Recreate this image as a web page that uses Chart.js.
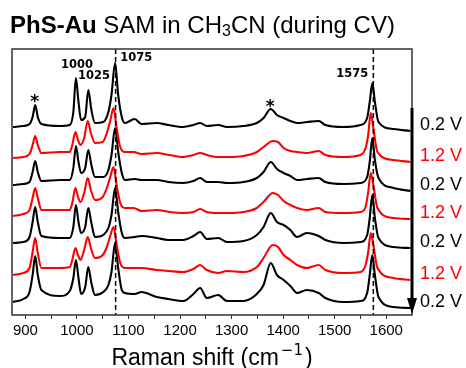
<!DOCTYPE html>
<html>
<head>
<meta charset="utf-8">
<script src="https://cdn.jsdelivr.net/npm/chart.js@4.4.1/dist/chart.umd.min.js"></script>
<style>
  html, body { margin: 0; padding: 0; background: #fff; }
  #wrap { width: 466px; height: 368px; position: relative; }
</style>
</head>
<body>
<div id="wrap"><canvas id="c" width="466" height="368"></canvas></div>
<script>
// ---- Data (Raman shift in cm^-1, intensities in arbitrary stacked units) ----
const shiftBlack = [876, 896, 908, 914, 919, 924, 931, 967, 986, 993, 998, 1003, 1008, 1016, 1022, 1028, 1035, 1051, 1061, 1067, 1074, 1080, 1087, 1093, 1112, 1125, 1155, 1177, 1206, 1226, 1239, 1252, 1274, 1291, 1323, 1349, 1362, 1376, 1388, 1401, 1414, 1427, 1446, 1469, 1482, 1517, 1550, 1563, 1568, 1573, 1578, 1585, 1614, 1647];
const shiftRed   = [876, 896, 908, 914, 919, 924, 931, 967, 986, 991, 997, 1002, 1007, 1014, 1021, 1027, 1035, 1050, 1058, 1064, 1071, 1077, 1084, 1093, 1110, 1125, 1155, 1179, 1206, 1226, 1239, 1252, 1274, 1291, 1323, 1349, 1362, 1380, 1390, 1401, 1414, 1427, 1446, 1469, 1482, 1517, 1550, 1560, 1565, 1570, 1575, 1583, 1614, 1647];

const scan1_02V = [188, 189, 191, 198, 210, 198, 191, 189, 190, 203, 237, 213, 195, 198, 225, 205, 192, 193, 203, 220, 252, 220, 198, 192, 196, 191, 192, 190, 188, 190, 192, 189, 190, 188, 189, 192, 197, 206, 200, 197, 194, 192, 193, 194, 190, 188, 190, 197, 213, 232, 213, 193, 186, 184];
const scan2_12V = [157, 158, 161, 170, 179, 170, 162, 163, 163, 170, 183, 175, 170, 177, 194, 182, 172, 173, 182, 193, 207, 187, 168, 163, 163, 161, 162, 160, 158, 160, 162, 160, 158, 158, 159, 163, 168, 174, 173, 167, 164, 163, 162, 164, 160, 158, 160, 167, 180, 202, 187, 163, 155, 153];
const scan3_02V = [130, 131, 133, 143, 154, 143, 134, 135, 135, 147, 169, 153, 142, 147, 165, 150, 138, 138, 145, 160, 187, 163, 142, 135, 136, 135, 135, 133, 132, 134, 137, 133, 133, 132, 133, 137, 143, 153, 146, 142, 139, 135, 136, 137, 133, 131, 132, 138, 153, 177, 155, 137, 127, 124];
const scan4_12V = [99, 101, 105, 117, 127, 117, 105, 105, 105, 112, 127, 118, 113, 122, 137, 125, 115, 118, 127, 137, 148, 130, 112, 107, 107, 104, 105, 103, 102, 103, 106, 103, 102, 102, 103, 107, 113, 122, 120, 114, 110, 107, 105, 107, 103, 102, 103, 108, 123, 142, 130, 107, 97, 96];
const scan5_02V = [72, 73, 78, 93, 108, 93, 79, 77, 77, 88, 110, 93, 82, 88, 107, 92, 78, 80, 87, 100, 127, 103, 82, 77, 78, 79, 77, 75, 75, 79, 83, 76, 77, 73, 74, 80, 88, 102, 93, 90, 85, 78, 82, 79, 75, 72, 73, 80, 97, 120, 97, 77, 68, 67];
const scan6_12V = [40, 42, 47, 63, 77, 62, 47, 47, 48, 55, 67, 60, 55, 65, 78, 67, 57, 60, 68, 78, 88, 70, 52, 47, 47, 47, 45, 44, 43, 46, 50, 45, 42, 44, 43, 48, 57, 70, 68, 60, 55, 50, 47, 50, 45, 42, 43, 50, 63, 82, 70, 47, 37, 35];
const scan7_02V = [13, 16, 23, 40, 59, 40, 25, 19, 24, 37, 55, 37, 21, 28, 48, 32, 20, 23, 30, 43, 72, 47, 25, 22, 21, 23, 18, 16, 14, 21, 27, 17, 20, 14, 14, 21, 30, 52, 40, 35, 29, 22, 25, 22, 17, 13, 14, 22, 40, 60, 40, 18, 8, 7];

const potentialLabels = ['0.2 V', '1.2 V', '0.2 V', '1.2 V', '0.2 V', '1.2 V', '0.2 V'];
const xTickValues = [900, 950, 1000, 1050, 1100, 1150, 1200, 1250, 1300, 1350, 1400, 1450, 1500, 1550, 1600];
const markedBands = [1075, 1575];
const bandLabels = ['1000', '1025', '1075', '1575'];
const solventBands = [918, 1375];

// ---- Build datasets ----
const scans = [scan1_02V, scan2_12V, scan3_02V, scan4_12V, scan5_02V, scan6_12V, scan7_02V];
const datasets = scans.map((vals, i) => {
  const isRed = potentialLabels[i] === '1.2 V';
  const xs = isRed ? shiftRed : shiftBlack;
  return {
    label: potentialLabels[i],
    data: vals.map((v, j) => ({ x: xs[j], y: v })),
    borderColor: isRed ? '#ff0000' : '#000000',
    borderWidth: 2.1,
    pointRadius: 0,
    fill: false,
    cubicInterpolationMode: 'monotone'
  };
});

const deco = {
  id: 'deco',
  afterDatasetsDraw(chart) {
    const { ctx, chartArea: a, scales: { x, y } } = chart;
    ctx.save();
    // dashed marker lines
    ctx.strokeStyle = '#000';
    ctx.lineWidth = 1.5;
    ctx.setLineDash([5, 3]);
    markedBands.forEach(v => {
      const px = x.getPixelForValue(v);
      ctx.beginPath();
      ctx.moveTo(px, a.top);
      ctx.lineTo(px, a.bottom);
      ctx.stroke();
    });
    ctx.setLineDash([]);
    // frame
    ctx.strokeStyle = '#333';
    ctx.lineWidth = 1.5;
    ctx.strokeRect(a.left, a.top, a.right - a.left, a.bottom - a.top);

    // band labels (bold)
    ctx.fillStyle = '#000';
    ctx.font = 'bold 11.5px "DejaVu Sans"';
    ctx.textAlign = 'center';
    ctx.textBaseline = 'middle';
    const bandPos = [[1000, 250], [1033, 239], [1115, 257], [1534, 241]];
    bandLabels.forEach((t, i) => {
      ctx.fillText(t, x.getPixelForValue(bandPos[i][0]), y.getPixelForValue(bandPos[i][1]));
    });
    // asterisks over solvent bands
    ctx.font = 'bold 17px "DejaVu Sans"';
    const starY = [216, 211];
    solventBands.forEach((v, i) => {
      ctx.fillText('*', x.getPixelForValue(v), y.getPixelForValue(starY[i]) + 4);
    });

    // arrow along right edge
    const ax = a.right;
    ctx.strokeStyle = '#000';
    ctx.lineWidth = 3;
    ctx.beginPath();
    ctx.moveTo(ax, 108);
    ctx.lineTo(ax, a.bottom - 14);
    ctx.stroke();
    ctx.beginPath();
    ctx.moveTo(ax - 5, a.bottom - 17);
    ctx.lineTo(ax + 5, a.bottom - 17);
    ctx.lineTo(ax, a.bottom - 1);
    ctx.closePath();
    ctx.fill();

    // potential labels on the right
    ctx.font = '18px "Liberation Sans"';
    ctx.textAlign = 'left';
    ctx.textBaseline = 'middle';
    scans.forEach((vals, i) => {
      const last = vals[vals.length - 1];
      ctx.fillStyle = potentialLabels[i] === '1.2 V' ? '#ff0000' : '#000';
      ctx.fillText(potentialLabels[i], 420, y.getPixelForValue(last) - 6);
    });
    ctx.restore();
  },
  afterDraw(chart) {
    const { ctx, chartArea: a } = chart;
    ctx.save();
    ctx.fillStyle = '#000';
    ctx.textBaseline = 'alphabetic';
    ctx.textAlign = 'left';
    // title
    let tx = 10;
    const base = 33;
    ctx.font = 'bold 24px "Liberation Sans"';
    ctx.fillText('PhS-Au', tx, base);
    tx += ctx.measureText('PhS-Au').width;
    ctx.font = '24px "Liberation Sans"';
    const t1 = ' SAM in CH';
    ctx.fillText(t1, tx, base);
    tx += ctx.measureText(t1).width;
    ctx.font = '16px "Liberation Sans"';
    ctx.fillText('3', tx, base + 3);
    tx += ctx.measureText('3').width;
    ctx.font = '24px "Liberation Sans"';
    ctx.fillText('CN (during CV)', tx, base);

    // x axis title
    ctx.font = '23px "Liberation Sans"';
    const p1 = 'Raman shift (cm';
    const w1 = ctx.measureText(p1).width;
    ctx.font = '15px "DejaVu Sans"';
    const sup = '\u22121';
    const ws = ctx.measureText(sup).width;
    ctx.font = '23px "Liberation Sans"';
    const w2 = ctx.measureText(')').width;
    const total = w1 + 2 + ws + 2 + w2;
    let ax = (a.left + a.right) / 2 - total / 2;
    const ab = 365;
    ctx.fillText(p1, ax, ab);
    ax += w1 + 2;
    ctx.font = '15px "DejaVu Sans"';
    ctx.fillText(sup, ax, ab - 10);
    ax += ws + 2;
    ctx.font = '23px "Liberation Sans"';
    ctx.fillText(')', ax, ab);
    ctx.restore();
  }
};

new Chart(document.getElementById('c'), {
  type: 'line',
  data: { datasets },
  options: {
    responsive: false,
    animation: false,
    layout: { padding: { left: 12, right: 54, top: 49, bottom: 0 } },
    plugins: { legend: { display: false }, tooltip: { enabled: false }, title: { display: false } },
    scales: {
      x: {
        type: 'linear',
        min: 874,
        max: 1650,
        afterBuildTicks: s => { s.ticks = xTickValues.map(v => ({ value: v })); },
        afterFit: s => { s.height = 53; },
        ticks: {
          autoSkip: false,
          maxRotation: 0,
          color: '#000',
          padding: 3,
          font: { family: 'Liberation Sans', size: 15 },
          callback: v => (v % 100 === 0 ? String(v) : '')
        },
        grid: { display: true, drawOnChartArea: false, drawTicks: true, tickLength: 4, color: '#333', lineWidth: 1 },
        border: { display: false }
      },
      y: { display: false, min: 0, max: 266 }
    }
  },
  plugins: [deco]
});
</script>
</body>
</html>
